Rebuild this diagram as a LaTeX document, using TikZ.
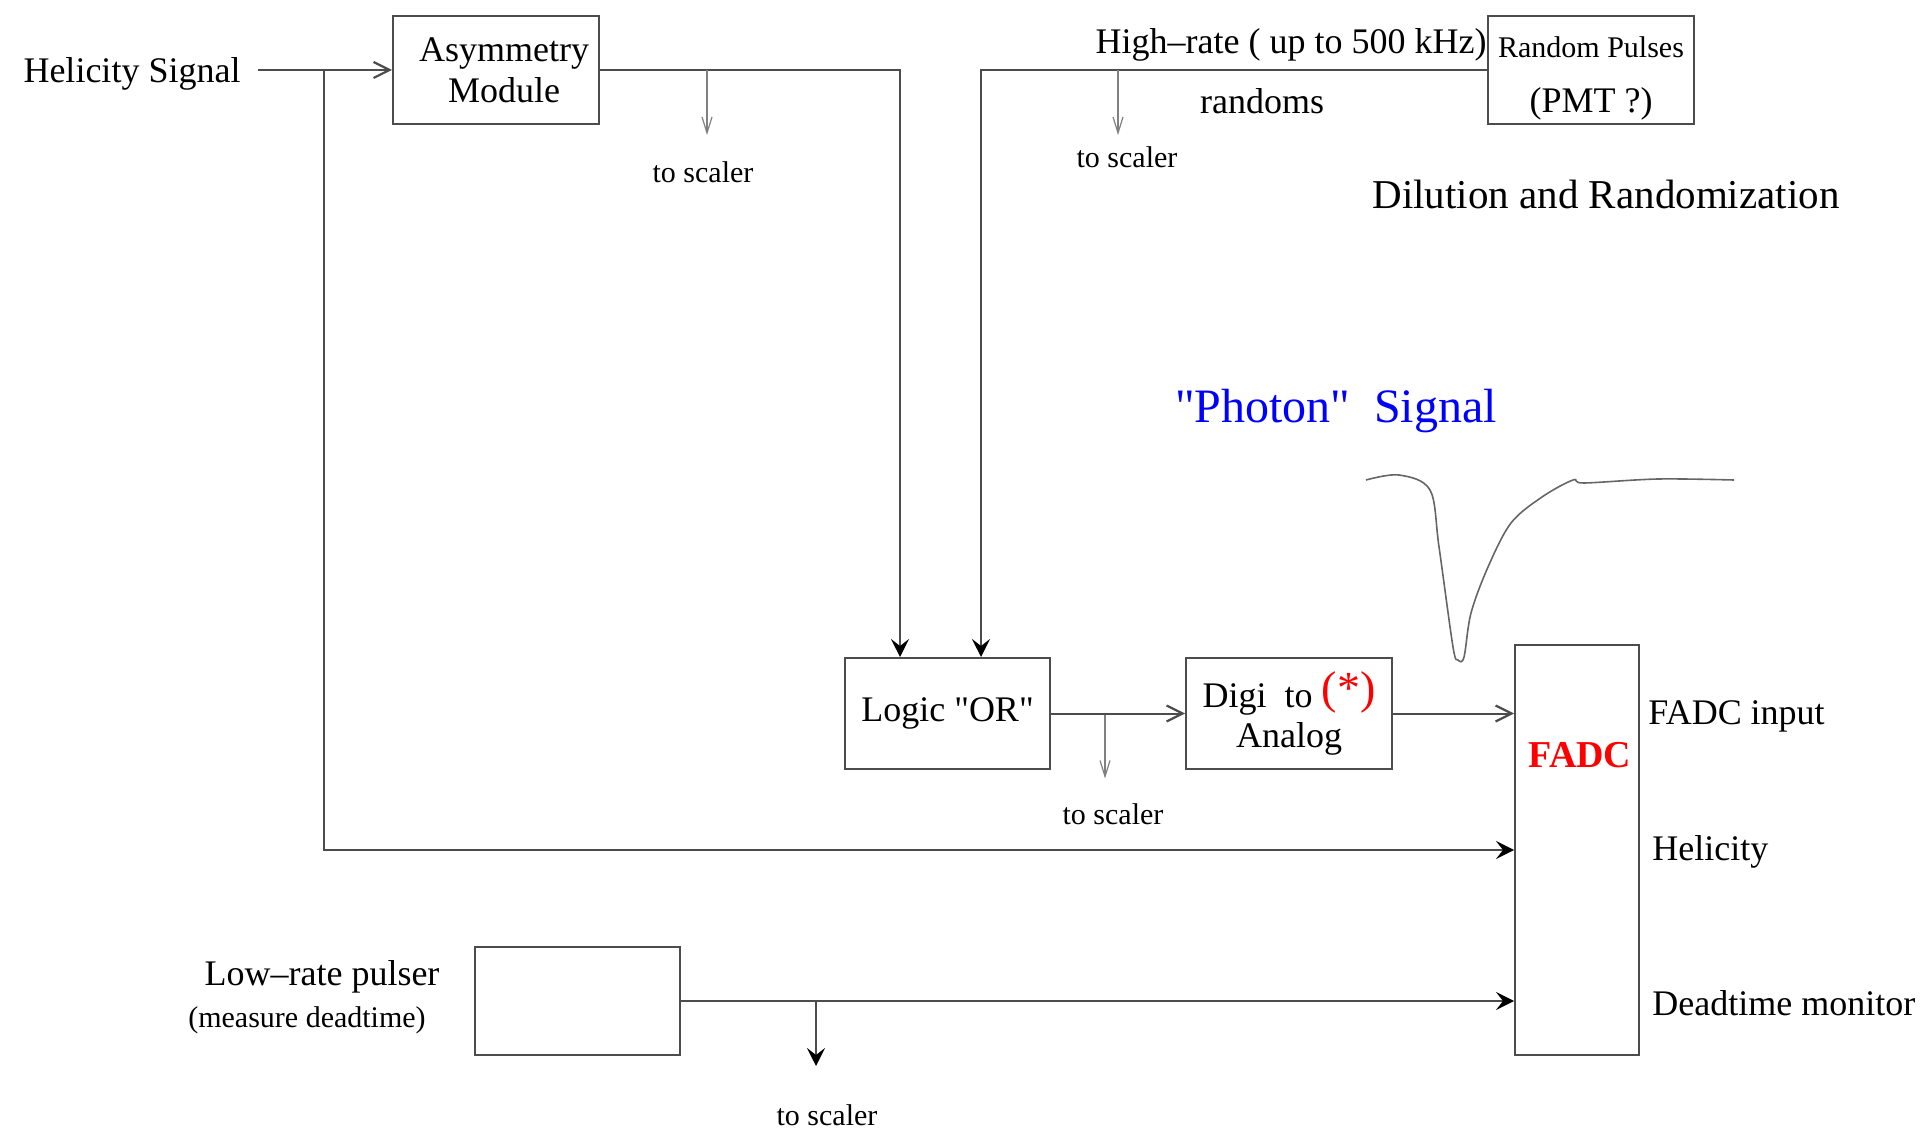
\documentclass[tikz,border=0pt]{standalone}
\usepackage{fontspec}
\setmainfont{Liberation Serif}
\newfontfamily\rawfont{Liberation Serif}
\usetikzlibrary{calc}
\usetikzlibrary{arrows.meta}
\tikzset{
  blk/.style={draw=black!70, line width=1pt, inner sep=0, align=center, font=\fontsize{18}{20.5}\selectfont},
  txt/.style={inner sep=0, font=\fontsize{18}{20.5}\selectfont},
  smalltxt/.style={inner sep=0, font=\fontsize{15}{17}\selectfont},
  wire/.style={draw=black!70, line width=1pt},
  openarr/.style={wire, -{Straight Barb[length=8pt,width=8pt,line width=1.1pt]}},
  boldarr/.style={wire, -{Stealth[length=9pt,width=9pt,inset=3.5pt,black]}},
  taparr/.style={draw=black!50, line width=0.6pt, -{Straight Barb[length=8pt,width=5pt]}}
}

\begin{document}
\begin{tikzpicture}[x=0.5pt,y=-0.5pt]
\useasboundingbox (0,0) rectangle (1925,1128);
% boxes
\node[blk, minimum width=103pt, minimum height=54pt] (asym) at (496,70) {\hspace*{8pt}Asymmetry\\\hspace*{8pt}Module};
\node[blk, minimum width=103pt, minimum height=54pt, font=\fontsize{18}{27.5}\selectfont] (rand) at (1591,70) {{\fontsize{15}{17}\selectfont\rule{0pt}{19pt}Random Pulses}\\(PMT ?)};
\node[blk, minimum width=102.5pt, minimum height=55.5pt, font=\rawfont\fontsize{18}{20.5}\selectfont] (logic) at (947.5,713.5) {Logic "OR"};
\node[blk, minimum width=103pt, minimum height=55.5pt, font=\fontsize{18}{20}\selectfont] (d2a) at (1289,713.5) {Digi~~to~{\color{red}\fontsize{23}{23}\selectfont\raisebox{2pt}{(*)}}\\Analog};
\node[blk, minimum width=102.5pt, minimum height=54pt] (pulser) at (577.5,1001) {};
\node[blk, minimum width=62pt, minimum height=205pt] (fadc) at (1577,850) {};
\node[txt, text=red, font=\bfseries\fontsize{19}{20}\selectfont] (fadclbl) at (1580,755) {FADC};

% helicity
\node[txt] (helsig) at (132,74) {Helicity Signal};
\coordinate (helsrc) at (258,70);
\coordinate (helbr) at (324,70);
\draw[openarr] (helsrc) -- (asym.west);
\draw[boldarr] (helbr) |- (fadc.west);

% into the OR
\draw[boldarr] (asym.east) -| ($(logic.north)+(-47.5,0)$);
\draw[boldarr] (rand.west) -| ($(logic.north)+(33.5,0)$);
\node[txt, anchor=east] (hirate) at (1487,45) {High–rate ( up to 500 kHz)};
\node[txt] (randoms) at (1262,101) {randoms};
\node[txt, font=\fontsize{20.5}{22}\selectfont] (dilution) at (1606,194) {Dilution and Randomization};

% scaler taps
\foreach \n/\x/\y/\lx/\ly in {A/707/70/703/172, B/1118/70/1127/157, C/1105/713.5/1113/814} {
  \coordinate (tap\n) at (\x,\y);
  \coordinate (end\n) at (\x,\y+65);
  \draw[taparr] (tap\n) -- (end\n);
  \node[smalltxt] (sc\n) at (\lx,\ly) {to scaler};
}

% to the FADC
\draw[openarr] (logic.east) -- (d2a.west);
\draw[openarr] (d2a.east) -- (d2a.east -| fadc.west);
\draw[boldarr] (pulser.east) -- (pulser.east -| fadc.west);
\coordinate (tapD) at (816,1001);
\coordinate (endD) at (816,1066);
\draw[boldarr] (tapD) -- (endD);
\node[smalltxt] (scD) at (827,1115) {to scaler};
\node[txt] (lowrate) at (322,977) {Low–rate pulser};
\node[smalltxt] (measure) at (307,1020) {(measure deadtime)};

\node[txt, anchor=west] (lblin) at (1648,716) {FADC input};
\node[txt, anchor=west] (lblhel) at (1652,852) {Helicity};
\node[txt, anchor=west] (lbldt) at (1652,1003) {Deadtime monitor};

% photon pulse
\node[txt, text=blue, font=\rawfont\fontsize{24}{26}\selectfont] (photon) at (1336,411) {"Photon"~~Signal};
\draw[draw=black!60, line width=0.8pt] plot[smooth, tension=0.55] coordinates {(1366,480) (1399,475) (1430,490) (1439,547) (1453,647) (1458,660) (1464,657) (1471,613) (1488,567) (1511,523) (1542,497) (1573,480) (1584,483) (1658,479) (1734,480)};
\end{tikzpicture}
\end{document}
